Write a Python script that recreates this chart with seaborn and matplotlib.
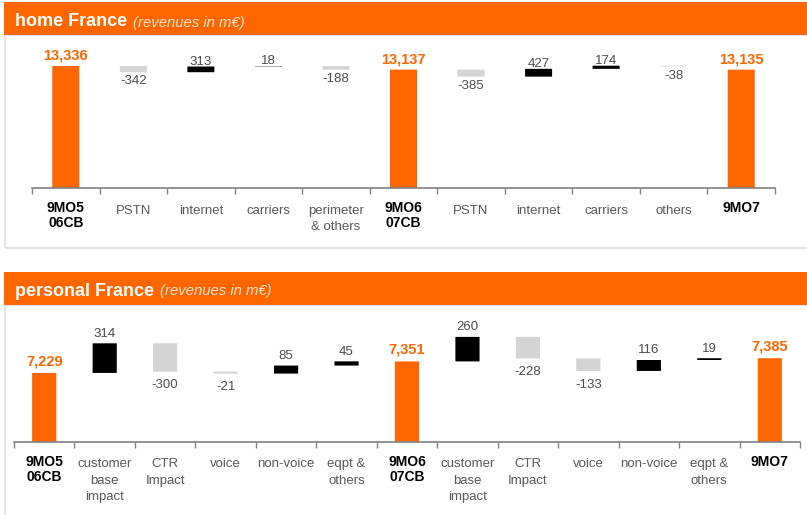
import matplotlib
matplotlib.use("Agg")
import matplotlib.pyplot as plt
import seaborn as sns
import numpy as np
import pandas as pd
from matplotlib.patches import Rectangle

# ---------------- data ----------------
home_labels = ["9MO5\n06CB", "PSTN", "internet", "carriers", "perimeter\n& others",
               "9MO6\n07CB", "PSTN", "internet", "carriers", "others", "9MO7"]
home_values = [13336, -342, 313, 18, -188, 13137, -385, 427, 174, -38, 13135]
home_totals = [True, False, False, False, False, True, False, False, False, False, True]

personal_labels = ["9MO5\n06CB", "customer\nbase\nimpact", "CTR\nImpact", "voice", "non-voice",
                   "eqpt &\nothers", "9MO6\n07CB", "customer\nbase\nimpact", "CTR\nImpact",
                   "voice", "non-voice", "eqpt &\nothers", "9MO7"]
personal_values = [7229, 314, -300, -21, 85, 45, 7351, 260, -228, -133, 116, 19, 7385]
personal_totals = [True, False, False, False, False, False, True, False, False, False, False, False, True]

home_title = "home France"
personal_title = "personal France"
subtitle = "(revenues in m€)"

# ---------------- style ----------------
ORANGE = "#FF6600"
GREY_BAR = "#D4D4D4"
BLACK = "#000000"
AXIS = "#808080"
TEXT_GREY = "#4D4D4D"
TICK_GREY = "#595959"
BOX = "#E4E4E4"

sns.set_style("white")
plt.rcParams["font.family"] = ["Liberation Sans", "DejaVu Sans"]

W, H = 807, 515
fig = plt.figure(figsize=(W / 100, H / 100), dpi=100)
fig.patch.set_facecolor("white")


def fx(px):
    return px / W


def fy(py):
    return 1 - py / H


def waterfall_frame(labels, values, totals):
    rows = []
    level = 0
    for i, (lab, v, t) in enumerate(zip(labels, values, totals)):
        if t:
            bottom, span, kind = 0, v, "total"
            level = v
        else:
            new = level + v
            bottom, span = min(level, new), abs(v)
            kind = "up" if v > 0 else "down"
            level = new
        rows.append(dict(key=f"k{i:02d}", label=lab, value=v, bottom=bottom,
                         span=span, top=bottom + span, kind=kind, total=t))
    return pd.DataFrame(rows)


def draw_panel(ax, df, ylim, off_total, off_up, off_down):
    order = list(df["key"])
    colors = {"total": ORANGE, "down": GREY_BAR, "up": BLACK}
    for kind, col in colors.items():
        sub = df[df["kind"] == kind]
        if sub.empty:
            continue
        sns.barplot(data=sub, x="key", y="span", order=order,
                    bottom=sub["bottom"].to_numpy(), color=col, saturation=1,
                    width=0.4, errorbar=None, linewidth=0, snap=False, ax=ax)
    n = len(df)
    ax.set_xlim(-0.5, n - 0.5)
    ax.set_ylim(*ylim)
    ax.set_xlabel("")
    ax.set_ylabel("")
    ax.set_facecolor("none")
    for s in ["top", "left", "right"]:
        ax.spines[s].set_visible(False)
    ax.spines["bottom"].set_color(AXIS)
    ax.spines["bottom"].set_linewidth(1.2)
    ax.set_yticks([])
    ax.set_xticks(range(n))
    ax.set_xticklabels([""] * n)
    ax.set_xticks(np.arange(-0.5, n, 1.0), minor=True)
    ax.tick_params(axis="x", which="major", length=0, bottom=False)
    ax.tick_params(axis="x", which="minor", length=4, width=1, color=AXIS,
                   direction="out", bottom=True)

    # category labels under the axis
    for i, (lab, tot) in enumerate(zip(df["label"], df["total"])):
        if tot:
            ax.annotate(lab, (i, 0), xycoords=("data", "axes fraction"),
                        xytext=(0, -9.6), textcoords="offset points",
                        ha="center", va="top", fontsize=10, fontweight="bold",
                        color="black", linespacing=1.05)
        else:
            ax.annotate(lab, (i, 0), xycoords=("data", "axes fraction"),
                        xytext=(0, -12), textcoords="offset points",
                        ha="center", va="top", fontsize=9.5,
                        color=TICK_GREY, linespacing=1.48)

    for i, r in df.reset_index(drop=True).iterrows():
        if r["total"]:
            ax.annotate(f"{r['value']:,}", (i, r["top"]), xytext=(0, off_total),
                        textcoords="offset points", ha="center", va="bottom",
                        color=ORANGE, fontsize=10.5, fontweight="bold")
        elif r["value"] > 0:
            ax.annotate(f"{r['value']}", (i, r["top"]), xytext=(0, off_up),
                        textcoords="offset points", ha="center", va="bottom",
                        color=TEXT_GREY, fontsize=9.5)
        else:
            ax.annotate(f"{r['value']}", (i, r["bottom"]), xytext=(0, -off_down),
                        textcoords="offset points", ha="center", va="top",
                        color=TEXT_GREY, fontsize=9.5)


# ---------------- panel frames and headers ----------------
def header(y0, y1, title, baseline):
    fig.add_artist(Rectangle((fx(4), fy(y1)), fx(803), (y1 - y0) / H,
                             transform=fig.transFigure, facecolor=ORANGE,
                             edgecolor="none", zorder=1))
    t = fig.text(fx(15), fy(baseline), title, color="white", fontsize=13,
                 fontweight="bold", va="baseline", ha="left", zorder=3)
    return t


fig.add_artist(Rectangle((fx(4.5), fy(248)), fx(810), (248 - 35) / H,
                         transform=fig.transFigure, facecolor="none",
                         edgecolor=BOX, linewidth=1.5, zorder=0))
fig.add_artist(Rectangle((fx(4.5), fy(530)), fx(810), (530 - 305) / H,
                         transform=fig.transFigure, facecolor="none",
                         edgecolor=BOX, linewidth=1.5, zorder=0))

t1 = header(2, 35, home_title, 26.5)
t2 = header(272, 305, personal_title, 295.5)

# ---------------- axes ----------------
ax1 = fig.add_axes([fx(32), fy(188), fx(775 - 32), (188 - 35) / H])
home_df = waterfall_frame(home_labels, home_values, home_totals)
draw_panel(ax1, home_df, (6626, 6626 + 153 * 55), off_total=2.2, off_up=-0.8, off_down=2.3)

ax2 = fig.add_axes([fx(14), fy(441.7), fx(800 - 14), (441.7 - 305) / H])
personal_df = waterfall_frame(personal_labels, personal_values, personal_totals)
draw_panel(ax2, personal_df, (6500, 6500 + 136.7 * 10.6), off_total=3.2, off_up=2.6, off_down=5.5)

# subtitles after the bold titles
fig.canvas.draw()
r = fig.canvas.get_renderer()
for t, base in [(t1, 26.5), (t2, 295.5)]:
    bb = t.get_window_extent(renderer=r)
    fig.text(bb.x1 / W + fx(6), fy(base), subtitle, color="#FFE3CF",
             fontsize=10.75, fontstyle="italic", va="baseline", ha="left", zorder=3)

fig.savefig("out.png", dpi=100)
